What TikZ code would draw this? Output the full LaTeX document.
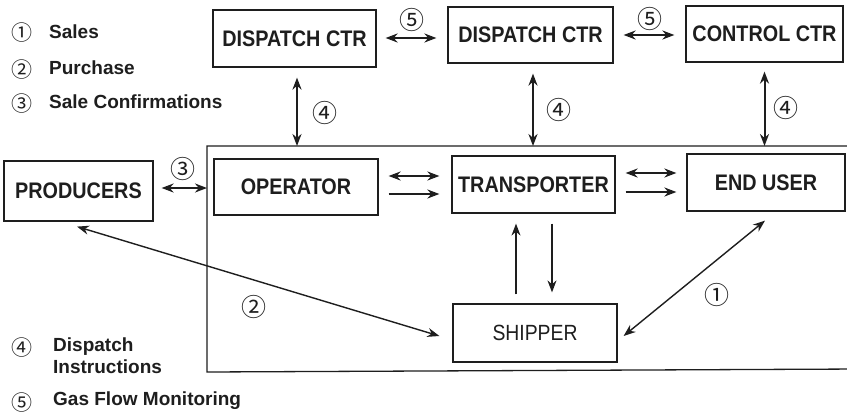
\documentclass[tikz,border=0pt]{standalone}
\usepackage{fontspec}
\setmainfont{Liberation Sans}
\newfontfamily\boxfont[FakeStretch=0.88]{Liberation Sans}
\newfontfamily\circfont{Noto Sans CJK JP}
\usetikzlibrary{arrows.meta}
\definecolor{ink}{HTML}{1E1E1E}
\tikzset{
  box/.style={draw=ink, line width=1.2pt, inner sep=0pt, font=\boxfont\fontsize{22.5}{23}\selectfont\bfseries, text=ink},
  tip/.tip={Stealth[length=12pt,width=9pt]},
  dbl/.style={draw=ink, line width=2pt, {tip}-{tip}},
  sgl/.style={draw=ink, line width=2pt, -{tip}},
  thn/.style={draw=ink, line width=1.4pt, -{tip}},
  thndbl/.style={draw=ink, line width=1.4pt, {tip}-{tip}},
  num/.style={font=\circfont\fontsize{25}{25}\selectfont, text=ink, inner sep=0pt},
  lnum/.style={font=\circfont\fontsize{21}{21}\selectfont, text=ink, inner sep=0pt},
  leg/.style={font=\fontsize{19}{21}\selectfont\bfseries, text=ink, anchor=west, inner sep=0pt, align=left},
}
\begin{document}
\begin{tikzpicture}[x=1pt,y=-1pt]
\useasboundingbox (0,0) rectangle (847,418);
\fill[white] (0,0) rectangle (847,418);

% system container (open to the right)
\coordinate (sysTR) at (860,146);
\coordinate (sysTL) at (207,146);
\coordinate (sysBL) at (207,372);
\coordinate (sysBR) at (860,369);
\draw[ink, line width=1.3pt] (sysTR) -- (sysTL) -- (sysBL) -- (sysBR);

% boxes
\node[box, minimum width=163pt, minimum height=57pt] (D1) at (294.5,38.5) {DISPATCH CTR};
\node[box, minimum width=165pt, minimum height=56pt] (D2) at (530.5,35) {DISPATCH CTR};
\node[box, minimum width=157pt, minimum height=56pt] (CC) at (764.5,34) {CONTROL CTR};
\node[box, minimum width=149pt, minimum height=60pt] (PR) at (78.5,191) {PRODUCERS};
\node[box, minimum width=164pt, minimum height=56pt] (OP) at (296,187) {OPERATOR};
\node[box, minimum width=163pt, minimum height=57pt] (TR) at (533.5,184.5) {TRANSPORTER};
\node[box, minimum width=158pt, minimum height=57pt] (EU) at (766,182.5) {END USER};
\node[box, minimum width=164pt, minimum height=58pt, font=\boxfont\fontsize{22}{23}\selectfont] (SH) at (535,333) {SHIPPER};

% gas flow monitoring
\draw[dbl] ([xshift=9pt]D1.east |- 0,38) -- ([xshift=-11pt]D2.west |- 0,38);
\draw[dbl] ([xshift=10pt]D2.east |- 0,35) -- ([xshift=-11pt]CC.west |- 0,35);
\node[num] (n5a) at (412,20) {⑤};
\node[num] (n5b) at (650,19) {⑤};

% dispatch instructions
\draw[dbl] ([xshift=2.5pt,yshift=-10pt]D1.south) -- ([xshift=2.5pt]D1.south |- sysTL);
\draw[dbl] ([xshift=2.5pt,yshift=-10pt]D2.south) -- ([xshift=2.5pt]D2.south |- sysTL);
\draw[dbl] ([yshift=-9pt]CC.south) -- (CC.south |- sysTL);
\node[num] (n4a) at (325,113) {④};
\node[num] (n4b) at (559,110) {④};
\node[num] (n4c) at (786,108) {④};

% sale confirmations
\draw[dbl] ([xshift=8pt,yshift=3pt]PR.east) -- ([yshift=3pt]PR.east -| sysTL);
\node[num] (n3) at (183,169) {③};

% operator -> transporter -> end user
\draw[dbl] ([xshift=10pt,yshift=11pt]OP.east) -- ([xshift=-12pt,yshift=11pt]OP.east -| TR.west);
\draw[sgl] ([xshift=10pt,yshift=-7pt]OP.east) -- ([xshift=-12pt,yshift=-7pt]OP.east -| TR.west);
\draw[dbl] ([xshift=10pt,yshift=11.5pt]TR.east) -- ([xshift=-10pt,yshift=11.5pt]TR.east -| EU.west);
\draw[sgl] ([xshift=10pt,yshift=-7.5pt]TR.east) -- ([xshift=-10pt,yshift=-7.5pt]TR.east -| EU.west);

% transporter <-> shipper
\draw[thn] ([xshift=-19pt,yshift=9pt]SH.north) -- ([xshift=-19pt,yshift=-10pt]SH.north |- TR.south);
\draw[thn] ([xshift=17pt,yshift=-10pt]SH.north |- TR.south) -- ([xshift=17pt,yshift=11pt]SH.north);

% sales
\draw[thndbl] ([xshift=6pt,yshift=-3pt]SH.east) -- ([xshift=-1pt,yshift=-9pt]EU.south);
\node[num] (n1) at (717,295) {①};

% purchase
\draw[thndbl] ([xshift=-1.5pt,yshift=-5pt]PR.south) -- ([xshift=-13pt,yshift=-3pt]SH.west);
\node[num] (n2) at (254,307) {②};

% legend
\node[lnum] (l1) at (22,33) {①};
\node[leg] (t1) at (49,32) {Sales};
\node[lnum] (l2) at (22,70) {②};
\node[leg] (t2) at (49,68) {Purchase};
\node[lnum] (l3) at (22,104) {③};
\node[leg] (t3) at (49,102) {Sale Confirmations};
\node[lnum] (l4) at (22,348) {④};
\node[leg, anchor=north west] (t4) at (53,338) {Dispatch\\[1pt]Instructions};
\node[lnum] (l5) at (22,403) {⑤};
\node[leg] (t5) at (53,401) {Gas Flow Monitoring};
\end{tikzpicture}
\end{document}
